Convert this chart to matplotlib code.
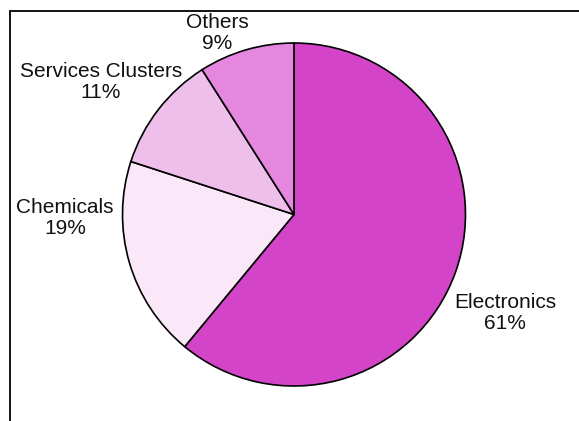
import matplotlib.pyplot as plt
from matplotlib.patches import Rectangle

labels = ['Electronics', 'Chemicals', 'Services Clusters', 'Others']
shares = [61, 19, 11, 9]
colors = ['#D444C8', '#FAE8F8', '#EFBFEC', '#E587DE']

# label anchor points in pixels (x from left, y from top)
label_xy = [(505, 313), (65, 218), (101, 82), (217, 33)]

W, H = 579, 421
fig = plt.figure(figsize=(W / 100, H / 100), dpi=100)
ax = fig.add_axes([0, 0, 1, 1])

cx, cy, r = 294, H - 214.5, 171.5
ax.pie(shares, colors=colors, startangle=90, counterclock=False,
       center=(cx, cy), radius=r, frame=True,
       wedgeprops=dict(edgecolor='black', linewidth=1.2))

for lab, val, (x, y) in zip(labels, shares, label_xy):
    ax.text(x, H - y, "%s\n%d%%" % (lab, val), ha='center', va='center',
            fontsize=15, family='Liberation Sans', linespacing=1.08,
            color='#111111')

ax.set_xlim(0, W)
ax.set_ylim(0, H)
ax.set_aspect('auto')
ax.axis('off')

# chart border (cropped at the right and bottom)
fig.patches.append(Rectangle((10 / W, -0.1), 1.2, 1.1 - 11 / H,
                             transform=fig.transFigure, fill=False,
                             edgecolor='black', linewidth=1.3))

fig.savefig('out.png', dpi=100)
